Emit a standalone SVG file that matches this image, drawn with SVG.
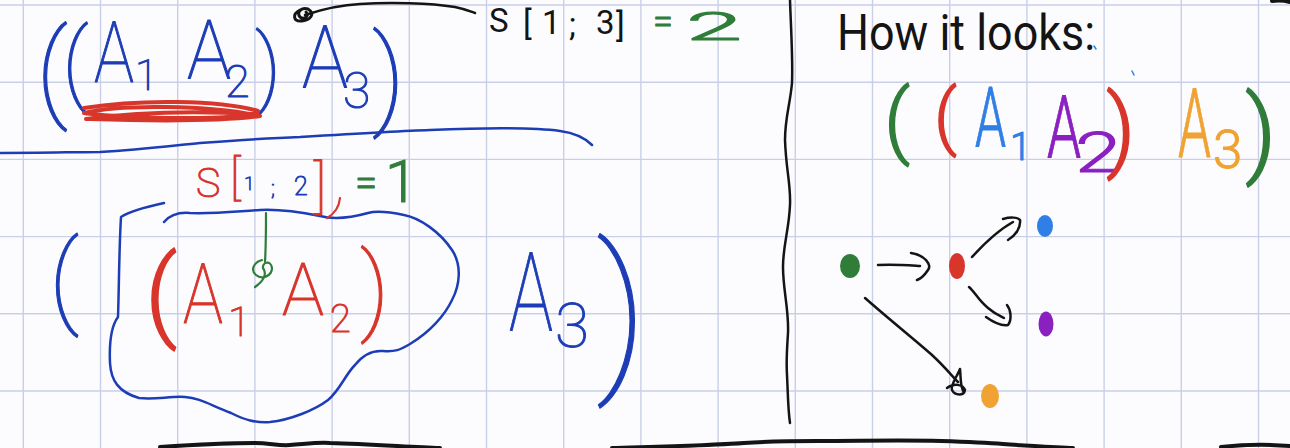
<svg xmlns="http://www.w3.org/2000/svg" width="1290" height="448" viewBox="0 0 1290 448">
<defs>
<style>
.grid line{stroke:#c9cfe8;stroke-width:1.4}
.ink{fill:none;stroke-linecap:round;stroke-linejoin:round}
.k{stroke:#141414}
.bd{stroke:#1d3db6}
.rd{stroke:#d8352b}
.gr{stroke:#2f7d39}
.hw{font-family:Roboto,"Noto Sans","DejaVu Sans",sans-serif;stroke-linejoin:round}
.fbd{fill:#1d3db6;stroke:#1d3db6;stroke-width:1.1}
.frd{fill:#d8352b;stroke:#d8352b;stroke-width:1.1}
.fgr{fill:#2f7d39;stroke:#2f7d39;stroke-width:1}
.fk{fill:#141414}
.bl{fill:#2f7fe6;stroke:#2f7fe6;stroke-width:1}
.pu{fill:#8a20c0;stroke:#8a20c0;stroke-width:1}
.or{fill:#f0a232;stroke:#f0a232;stroke-width:1}
.thick{font-weight:300;stroke-width:1.4}
</style>
</defs>
<rect width="1290" height="448" fill="#fcfcff"/>
<g class="grid">
<line x1="23.3" y1="0" x2="23.3" y2="448"/><line x1="100.5" y1="0" x2="100.5" y2="448"/><line x1="177.7" y1="0" x2="177.7" y2="448"/><line x1="254.9" y1="0" x2="254.9" y2="448"/><line x1="332.1" y1="0" x2="332.1" y2="448"/><line x1="409.3" y1="0" x2="409.3" y2="448"/><line x1="486.5" y1="0" x2="486.5" y2="448"/><line x1="563.7" y1="0" x2="563.7" y2="448"/><line x1="640.9" y1="0" x2="640.9" y2="448"/><line x1="718.1" y1="0" x2="718.1" y2="448"/><line x1="795.3" y1="0" x2="795.3" y2="448"/><line x1="872.5" y1="0" x2="872.5" y2="448"/><line x1="949.7" y1="0" x2="949.7" y2="448"/><line x1="1026.9" y1="0" x2="1026.9" y2="448"/><line x1="1104.1" y1="0" x2="1104.1" y2="448"/><line x1="1181.3" y1="0" x2="1181.3" y2="448"/><line x1="1258.5" y1="0" x2="1258.5" y2="448"/>
<line x1="0" y1="5" x2="1290" y2="5"/><line x1="0" y1="82.2" x2="1290" y2="82.2"/><line x1="0" y1="159.4" x2="1290" y2="159.4"/><line x1="0" y1="236.6" x2="1290" y2="236.6"/><line x1="0" y1="313.8" x2="1290" y2="313.8"/><line x1="0" y1="391" x2="1290" y2="391"/>
</g>

<!-- top-left expression -->
<g id="expr-top">
<text class="hw fbd" font-weight="100"><tspan x="36" y="107" font-size="108">(</tspan><tspan x="62" y="94" font-size="90">(</tspan><tspan x="94" y="82" font-size="86" textLength="40" lengthAdjust="spacingAndGlyphs">A</tspan><tspan x="135" y="90" font-size="42">1</tspan><tspan x="187" y="78" font-size="82" textLength="44" lengthAdjust="spacingAndGlyphs">A</tspan><tspan x="225" y="97" font-size="45">2</tspan><tspan x="255" y="97" font-size="87">)</tspan><tspan x="302" y="88" font-size="88" textLength="46" lengthAdjust="spacingAndGlyphs">A</tspan><tspan x="343" y="108" font-size="50">3</tspan><tspan x="372" y="114" font-size="110">)</tspan></text>
<path class="ink rd" stroke-width="4" d="M84,108 C140,99 220,100 258,111 C250,121 130,119 84,113 C120,104 210,105 260,116 C210,123 120,120 86,119 C150,110 220,112 258,114"/>
</g>

<path class="ink bd" stroke-width="2.5" d="M0,153 C40,153 80,152 100,152 C140,150 170,146 200,143 C240,140 270,138 300,137 C350,134 400,131 430,130 C480,128 530,127 560,131 C575,133 585,138 592,145"/>

<g id="label-s13">
<text class="hw" font-weight="100"><tspan class="fk" font-size="33" font-weight="400" x="489 523 542 569 596 616" y="32 35 34 36 34 37">S[1;3]</tspan><tspan class="fgr" x="653" y="34" font-size="36" font-weight="300">=</tspan><tspan class="fgr" x="686" y="40" font-size="38" font-weight="300" textLength="56" lengthAdjust="spacingAndGlyphs">2</tspan></text>
</g>

<!-- bottom-left expression -->
<g id="expr-bottom">
<text class="hw" font-weight="100"><tspan class="fbd" x="49" y="314" font-size="102" stroke-width="1.6">(</tspan><tspan class="frd thick" x="145" y="328" font-size="101">(</tspan><tspan class="frd" x="183" y="323" font-size="84" textLength="40" lengthAdjust="spacingAndGlyphs">A</tspan><tspan class="frd" x="228" y="336" font-size="41">1</tspan><tspan class="frd" x="282" y="315" font-size="73" textLength="42" lengthAdjust="spacingAndGlyphs">A</tspan><tspan class="frd" x="330" y="332" font-size="38">2</tspan><tspan class="frd" x="360" y="322" font-size="97" stroke-width="1.6">)</tspan><tspan class="fbd" x="509" y="330" font-size="110" textLength="44" lengthAdjust="spacingAndGlyphs">A</tspan><tspan class="fbd" x="555" y="347" font-size="62">3</tspan><tspan class="fbd" x="596" y="369" font-size="171">)</tspan></text>
</g>

<g id="subproblem-cloud">
<path class="ink bd" stroke-width="2.5" d="M164,203 C150,206 132,210 121,217 C119,250 119,290 118,317 C112,325 109,340 110,363 C111,380 118,392 139,398 C155,400 170,396 185,397 C200,398 210,405 231,413 C245,420 255,423 270,422 C290,420 315,410 328,400 C340,390 345,375 355,365 C362,356 370,350 383,351 C395,352 400,350 410,344 C430,332 445,315 452,300 C460,285 462,265 452,250 C440,232 420,218 404,215 C390,212 378,210 368,213 C350,218 335,220 320,216 C300,212 280,209 260,210 C240,211 215,214 190,213 C178,212 170,215 164,222"/>
</g>

<g id="label-s12">
<text class="hw" font-weight="100"><tspan class="frd" x="196" y="197" font-size="41">S</tspan><tspan class="frd" x="230" y="194" font-size="48">[</tspan><tspan class="fbd" x="244" y="190" font-size="19">1</tspan><tspan class="fbd" x="271" y="196" font-size="22">;</tspan><tspan class="fbd" x="294" y="195" font-size="25">2</tspan><tspan class="frd" x="314" y="206" font-size="58">]</tspan><tspan class="fgr" x="355" y="196" font-size="40" font-weight="300">=</tspan><tspan class="fgr" x="385" y="202" font-size="59" font-weight="300" stroke-width="1.5">1</tspan></text>
<path class="ink rd" stroke-width="2.2" d="M340,198 C339,208 334,214 327,218"/>
<path class="ink gr" stroke-width="2.2" d="M266,213 C266,230 266,245 265,262 M262,260 C254,262 250,270 256,275 C262,280 272,276 272,268 C271,260 262,262 263,268 C268,275 262,282 255,287"/>
</g>

<g id="arrow-top" class="ink k">
<path stroke-width="2.5" d="M305,15 C320,10 340,5 360,4 C390,2 430,3 455,7 C465,9 472,12 475,13"/>
<path stroke-width="3" d="M300,10 C292,14 293,22 302,21 C310,20 316,14 308,9 C302,7 296,12 300,17 C304,20 310,16 306,12"/>
</g>

<path class="ink k" stroke-width="2.5" d="M790,0 C791,30 793,60 792,83 C790,105 785,118 785,140 C786,170 791,185 790,205 C789,230 783,245 783,267 C783,290 789,310 788,333 C787,350 786,360 787,375 C788,395 788,410 790,423"/>
<path class="ink k" stroke-width="4" d="M160,447 C190,445 230,443 255,443 C270,443 278,446 290,445 C305,444 318,442 330,443 C370,444 410,447 440,448 M612,448 C640,447 700,446 744,443 C770,441 800,441 818,441 C860,441 900,440 941,441 C970,442 990,443 1003,444 C1030,446 1055,447 1073,448 M1221,447 C1240,445 1265,444 1290,446 M1272,1 C1280,0 1286,1 1290,2"/>

<g id="heading">
<text class="hw fk" x="837" y="50" font-size="50" font-weight="400" textLength="258" lengthAdjust="spacingAndGlyphs">How it looks:</text>
<path class="ink" stroke="#2f7fe6" stroke-width="1.5" d="M1094,46 L1096,49 M1132,71 L1134,75"/>
</g>

<g id="expr-right">
<text class="hw" font-weight="100"><tspan class="fgr thick" x="884" y="148" font-size="82">(</tspan><tspan class="frd thick" x="934" y="141" font-size="72">(</tspan><tspan class="bl" x="975" y="147" font-size="84" font-weight="300" textLength="31" lengthAdjust="spacingAndGlyphs">A</tspan><tspan class="bl" x="1010" y="160" font-size="38" font-weight="300">1</tspan><tspan class="pu" x="1047" y="157" font-size="88" font-weight="300" textLength="34" lengthAdjust="spacingAndGlyphs">A</tspan><tspan class="pu" x="1075" y="172" font-size="55" font-weight="300" textLength="46" lengthAdjust="spacingAndGlyphs">2</tspan><tspan class="frd thick" x="1106" y="160" font-size="91">)</tspan><tspan class="or" x="1178" y="157" font-size="96" font-weight="300" textLength="33" lengthAdjust="spacingAndGlyphs">A</tspan><tspan class="or" x="1213" y="168" font-size="53" font-weight="300">3</tspan><tspan class="fgr thick" x="1245" y="165" font-size="97">)</tspan></text>
</g>

<g id="node-green"><ellipse cx="850" cy="266" rx="10" ry="12" fill="#2f7d39"/></g>
<g id="node-red"><ellipse cx="957" cy="266" rx="8" ry="13" fill="#d8352b"/></g>
<g id="node-blue"><ellipse cx="1045" cy="226" rx="8" ry="11" fill="#2f7fe6"/></g>
<g id="node-purple"><ellipse cx="1046" cy="324" rx="7.5" ry="12.5" fill="#8a20c0"/></g>
<g id="node-orange"><ellipse cx="990" cy="396" rx="9" ry="12" fill="#f0a232"/></g>

<g id="connectors" class="ink k" stroke-width="2.5">
<path d="M878,265 C893,264 905,265 920,266 M911,253 C925,255 932,265 928,270 C924,276 920,279 917,280"/>
<path d="M972,257 C982,246 995,232 1013,222 M1003,219 C1010,217 1018,217 1020,220 C1021,228 1015,236 1008,240"/>
<path d="M969,287 C975,292 978,300 988,308 C995,314 1000,316 1004,318 M986,317 C993,322 1002,326 1008,325 C1012,320 1011,310 1007,305"/>
<path d="M865,298 C890,320 915,340 932,355 C945,367 952,376 958,382 M947,388 C953,383 963,384 965,390 C964,396 955,396 952,390 C950,385 958,375 960,369 C961,378 960,388 964,392"/>
</g>
</svg>
